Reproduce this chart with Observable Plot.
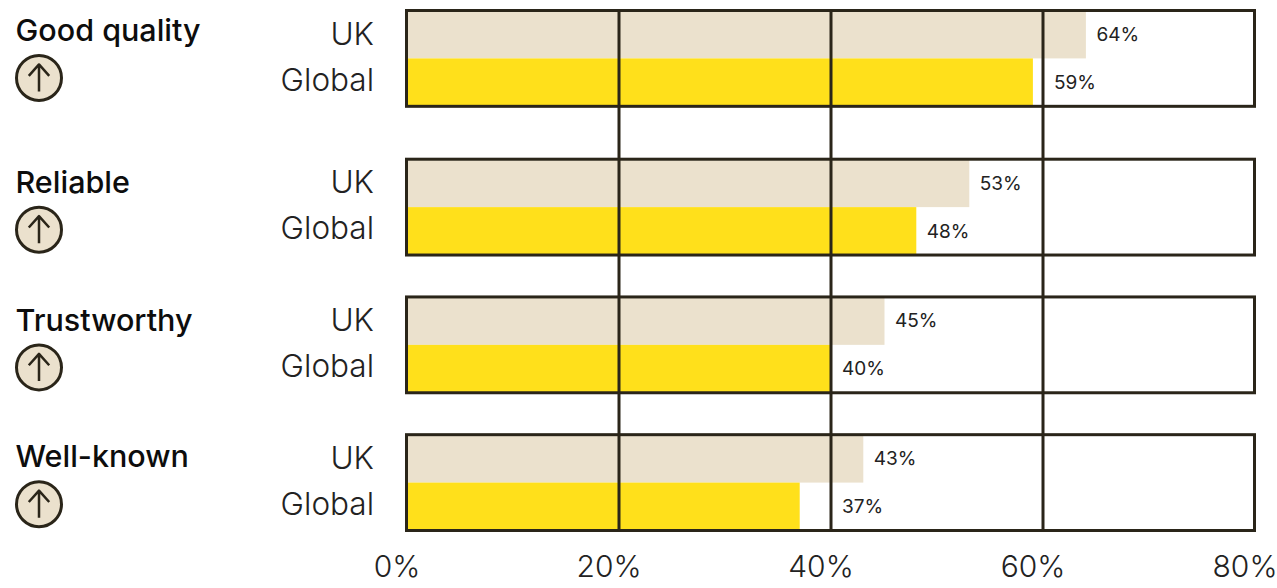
<!DOCTYPE html>
<html>
<head>
<meta charset="utf-8">
<style>
  html, body { margin: 0; padding: 0; background: #fff; }
  svg { display: block; }
</style>
<script src="https://cdn.jsdelivr.net/npm/d3@7"></script>
<script src="https://cdn.jsdelivr.net/npm/@observablehq/plot@0.6"></script>
</head>
<body>
<div id="chart"></div>
<script>
// Brand attributes, UK against the global average (percent agreeing)
const attributes = ["Good quality", "Reliable", "Trustworthy", "Well-known"];
const regions = ["UK", "Global"];
const ukValues = [64, 53, 45, 43];
const globalValues = [59, 48, 40, 37];
const axisTicks = [0, 20, 40, 60, 80];
const gridTicks = [20, 40, 60];

// Vertical layout, in bar heights
const groupGaps = [1.104, 0.875, 0.875];
const headingShift = [-0.0625, 0, 0, -0.02];

const ink = "#2a2519";
const regionFill = { UK: "#ebe1cd", Global: "#ffe01b" };
const fontFamily = "Inter, 'Noto Sans', sans-serif";

// Each group occupies two bar heights, followed by its gap
const groupTop = attributes.map((_, i) =>
  2 * i + d3.sum(groupGaps.slice(0, i)));
const totalRows = groupTop[groupTop.length - 1] + 2;

const bars = attributes.flatMap((attribute, i) =>
  regions.map((region, j) => ({
    attribute,
    region,
    value: (j === 0 ? ukValues : globalValues)[i],
    top: groupTop[i] + j,
    bottom: groupTop[i] + j + 1,
    middle: groupTop[i] + j + 0.5,
    regionLabel: groupTop[i] + j + 0.5 - (j === 0 ? 0.01 : 0.05)
  })));

const groups = attributes.map((attribute, i) => ({
  attribute,
  top: groupTop[i],
  bottom: groupTop[i] + 2,
  heading: groupTop[i] + 0.49 + headingShift[i],
  badge: groupTop[i] + 1.46 + headingShift[i]
}));

// A label that would run into a gridline sits just past that line instead
const labelAnchor = (v) => gridTicks.find((t) => v < t && t - v <= 3) ?? v;

// Upward arrow drawn inside each badge
const upArrow = {
  draw(context, length) {
    const head = length * 0.42;
    context.moveTo(0, 0);
    context.lineTo(0, -length);
    context.moveTo(-head * 0.9, -length + head);
    context.lineTo(0, -length);
    context.lineTo(head * 0.9, -length + head);
  }
};

const chart = Plot.plot({
  width: 1277,
  height: 588,
  marginLeft: 406.5,
  marginRight: 22.5,
  marginTop: 10.5,
  marginBottom: 57.5,
  style: { fontFamily, background: "#fff", overflow: "visible" },
  x: { domain: [0, 80], axis: null },
  y: { domain: [0, totalRows], reverse: true, axis: null },
  marks: [
    // Bars
    Plot.rectX(bars, {
      x1: 0,
      x2: "value",
      y1: "top",
      y2: "bottom",
      fill: (d) => regionFill[d.region],
      insetRight: -1
    }),
    // Group frames
    Plot.rect(groups, {
      x1: 0,
      x2: 80,
      y1: "top",
      y2: "bottom",
      stroke: ink,
      strokeWidth: 3,
      fill: "none"
    }),
    // Gridlines run through all the groups
    Plot.ruleX(gridTicks, {
      y1: 0,
      y2: totalRows,
      stroke: ink,
      strokeWidth: 3
    }),
    // Value labels
    Plot.text(bars, {
      x: (d) => labelAnchor(d.value),
      y: "middle",
      text: (d) => `${d.value}%`,
      textAnchor: "start",
      dx: 11,
      fontSize: 19,
      fill: "#222"
    }),
    // Region labels
    Plot.text(bars, {
      y: "regionLabel",
      frameAnchor: "left",
      text: "region",
      textAnchor: "end",
      dx: -33,
      fontSize: 31.5,
      fontWeight: 300,
      fill: "#222"
    }),
    // Attribute headings
    Plot.text(groups, {
      y: "heading",
      frameAnchor: "left",
      text: "attribute",
      textAnchor: "start",
      dx: -391.5,
      fontSize: 30.5,
      fontWeight: 500,
      fill: "#0d0d0d"
    }),
    // Badges
    Plot.dot(groups, {
      y: "badge",
      frameAnchor: "left",
      dx: -368,
      r: 22.5,
      fill: "#ebe1cd",
      stroke: ink,
      strokeWidth: 3
    }),
    Plot.vector(groups, {
      y: "badge",
      frameAnchor: "left",
      dx: -368,
      length: 27,
      anchor: "middle",
      shape: upArrow,
      stroke: ink,
      strokeWidth: 2.5,
      strokeLinecap: "butt"
    }),
    // Axis labels
    Plot.text(axisTicks, {
      x: (d) => d,
      frameAnchor: "bottom",
      text: (d) => `${d}%`,
      dx: -10,
      dy: 46,
      fontSize: 30,
      fontWeight: 300,
      fill: "#222"
    })
  ]
});

document.getElementById("chart").append(chart);
</script>
</body>
</html>
